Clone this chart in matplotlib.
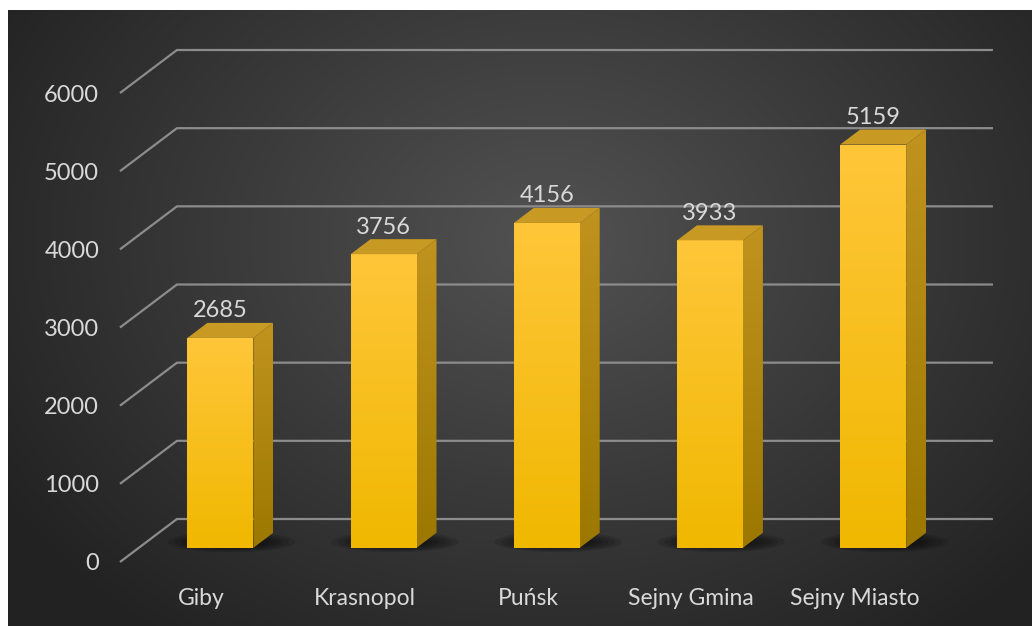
import numpy as np
import matplotlib
matplotlib.use("Agg")
import matplotlib.pyplot as plt
from matplotlib.patches import Polygon, Ellipse

categories = ["Giby", "Krasnopol", "Puńsk", "Sejny Gmina", "Sejny Miasto"]
values = [2685, 3756, 4156, 3933, 5159]
yticks = [0, 1000, 2000, 3000, 4000, 5000, 6000]

W, H = 1032, 626
plt.rcParams['font.family'] = ['Lato', 'DejaVu Sans']
txt = '#d9d9d9'

fig = plt.figure(figsize=(W / 100, H / 100), dpi=100, facecolor='white')

# dark radial background (white strip on top and left as in the reference)
bg = fig.add_axes([8 / W, 0, 1 - 8 / W, 1 - 10 / H])
bg.set_axis_off()
yy, xx = np.mgrid[0:616, 0:1024]
r = np.sqrt(((xx - 540) / 620.0) ** 2 + ((yy - 230) / 480.0) ** 2)
shade = np.clip(0x52 - (0x52 - 0x24) * r, 0x22, 0x55) / 255.0
bg.imshow(np.dstack([shade, shade, shade]), aspect='auto', extent=(0, 1024, 616, 0))
bg.set_xlim(0, 1024)
bg.set_ylim(616, 0)

# main axes = front plane of the 3D box
ax = fig.add_axes([120 / W, (H - 562) / H, 816 / W, 469 / H])
ax.set_facecolor('none')
ax.set_xlim(-0.5, 4.5)
ax.set_ylim(0, 6000)
for s in ax.spines.values():
    s.set_visible(False)

DX, DY = 0.349, 550      # full depth offset in data units
d0, d1 = 0.33, 0.68      # bar front / back depth fraction
hw = 0.202               # half bar width

# gridlines: slanted floor part + back wall
for v in yticks:
    ax.plot([-0.5, -0.5 + DX, 4.5 + DX], [v, v + DY, v + DY], color='#8c8c8c',
            lw=1.6, clip_on=False, zorder=1, solid_capstyle='butt')


def grad_fill(poly, top, bottom, z):
    patch = Polygon(poly, closed=True, facecolor='none', edgecolor='none')
    ax.add_patch(patch)
    xs = [p[0] for p in poly]
    ys = [p[1] for p in poly]
    g = np.linspace(0, 1, 256)[:, None]
    c0 = np.array(matplotlib.colors.to_rgb(top))
    c1 = np.array(matplotlib.colors.to_rgb(bottom))
    img = c0[None, None, :] * (1 - g[..., None]) + c1[None, None, :] * g[..., None]
    im = ax.imshow(img, aspect='auto', extent=(min(xs), max(xs), min(ys), max(ys)),
                   origin='upper', zorder=z)
    im.set_clip_path(patch)


for i, (cat, v) in enumerate(zip(categories, values)):
    xl = i - hw
    xr = i + hw
    # soft floor shadow around the bar base
    for k in range(7):
        ax.add_patch(Ellipse((i + 0.5 * DX + 0.01, 0.52 * DY - 30), 0.78 - k * 0.08,
                             260 - k * 28, facecolor='black', alpha=0.12,
                             edgecolor='none', clip_on=False, zorder=2))
    front = [(xl + d0 * DX, d0 * DY), (xr + d0 * DX, d0 * DY),
             (xr + d0 * DX, v + d0 * DY), (xl + d0 * DX, v + d0 * DY)]
    side = [(xr + d0 * DX, d0 * DY), (xr + d1 * DX, d1 * DY),
            (xr + d1 * DX, v + d1 * DY), (xr + d0 * DX, v + d0 * DY)]
    top = [(xl + d0 * DX, v + d0 * DY), (xr + d0 * DX, v + d0 * DY),
           (xr + d1 * DX, v + d1 * DY), (xl + d1 * DX, v + d1 * DY)]
    grad_fill(front, '#ffc63a', '#f0b800', 4)
    grad_fill(side, '#c0931e', '#9c7800', 4)
    ax.add_patch(Polygon(top, closed=True, facecolor='#c89a24', edgecolor='none',
                         zorder=4, clip_on=False))
    ax.text(i + d0 * DX, v + d1 * DY + 20, str(v), ha='center', va='bottom',
            color=txt, fontsize=17, zorder=5)

ax.set_xlim(-0.5, 4.5)
ax.set_ylim(0, 6000)
ax.set_yticks(yticks)
ax.set_yticklabels([str(t) for t in yticks])
ax.set_xticks(range(len(categories)))
ax.set_xticklabels(categories)
ax.tick_params(axis='y', length=0, pad=15, labelcolor=txt, labelsize=17)
ax.tick_params(axis='x', length=0, pad=19, labelcolor=txt, labelsize=16.5)

fig.savefig('out.png', dpi=100, facecolor='white')
